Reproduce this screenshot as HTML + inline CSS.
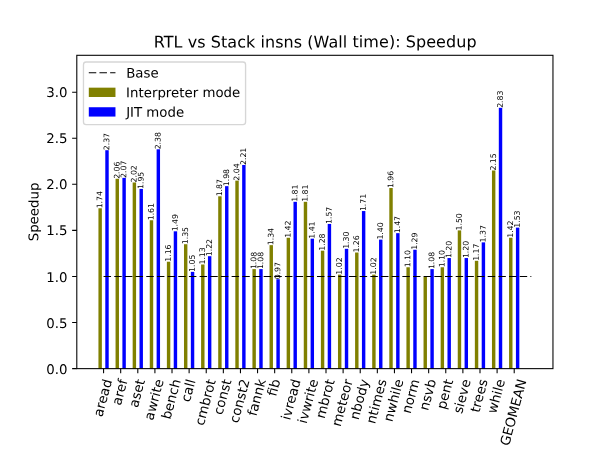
<!DOCTYPE html>
<html lang="en"><head><meta charset="utf-8"><title>RTL vs Stack insns (Wall time): Speedup</title>
<style>
html,body{margin:0;padding:0;background:#fff;}
body{width:613px;height:460px;overflow:hidden;}
svg{display:block;}
text{font-family:"DejaVu Sans","Liberation Sans",sans-serif;fill:#000;text-rendering:geometricPrecision}
.b1{fill:#808000}.b2{fill:#0000ff}
.ax{stroke:#000;stroke-width:1.07;fill:none;stroke-linecap:square}
.tk{stroke:#000;stroke-width:1.07;fill:none}
.lab{font-size:7.72px}
.t10{font-size:13.33px}.t12{font-size:16px;letter-spacing:0.06px}
</style></head><body>
<svg width="613" height="460" viewBox="0 0 613 460">
<rect width="613" height="460" fill="#fff"/>
<g class="b1">
<rect x="98.44" y="208.28" width="3.42" height="160.36"/>
<rect x="115.55" y="178.79" width="3.42" height="189.85"/>
<rect x="132.66" y="182.48" width="3.42" height="186.16"/>
<rect x="149.77" y="220.26" width="3.42" height="148.38"/>
<rect x="166.88" y="261.73" width="3.42" height="106.91"/>
<rect x="183.99" y="244.22" width="3.42" height="124.42"/>
<rect x="201.1" y="264.5" width="3.42" height="104.14"/>
<rect x="218.21" y="196.3" width="3.42" height="172.34"/>
<rect x="235.32" y="180.63" width="3.42" height="188.01"/>
<rect x="252.43" y="269.11" width="3.42" height="99.53"/>
<rect x="269.54" y="245.15" width="3.42" height="123.49"/>
<rect x="286.65" y="237.77" width="3.42" height="130.87"/>
<rect x="303.76" y="201.83" width="3.42" height="166.81"/>
<rect x="320.87" y="250.68" width="3.42" height="117.96"/>
<rect x="337.98" y="274.64" width="3.42" height="94"/>
<rect x="355.09" y="252.52" width="3.42" height="116.12"/>
<rect x="372.2" y="274.64" width="3.42" height="94"/>
<rect x="389.31" y="188.01" width="3.42" height="180.63"/>
<rect x="406.42" y="267.26" width="3.42" height="101.38"/>
<rect x="423.53" y="276.48" width="3.42" height="92.16"/>
<rect x="440.64" y="267.26" width="3.42" height="101.38"/>
<rect x="457.75" y="230.4" width="3.42" height="138.24"/>
<rect x="474.85" y="260.81" width="3.42" height="107.83"/>
<rect x="491.96" y="170.5" width="3.42" height="198.14"/>
<rect x="509.07" y="237.77" width="3.42" height="130.87"/>
</g>
<g class="b2">
<rect x="105.29" y="150.22" width="3.42" height="218.42"/>
<rect x="122.4" y="177.87" width="3.42" height="190.77"/>
<rect x="139.51" y="188.93" width="3.42" height="179.71"/>
<rect x="156.62" y="149.3" width="3.42" height="219.34"/>
<rect x="173.73" y="231.32" width="3.42" height="137.32"/>
<rect x="190.84" y="271.87" width="3.42" height="96.77"/>
<rect x="207.95" y="256.2" width="3.42" height="112.44"/>
<rect x="225.05" y="186.16" width="3.42" height="182.48"/>
<rect x="242.16" y="164.97" width="3.42" height="203.67"/>
<rect x="259.27" y="269.11" width="3.42" height="99.53"/>
<rect x="276.38" y="279.24" width="3.42" height="89.4"/>
<rect x="293.49" y="201.83" width="3.42" height="166.81"/>
<rect x="310.6" y="238.69" width="3.42" height="129.95"/>
<rect x="327.71" y="223.95" width="3.42" height="144.69"/>
<rect x="344.82" y="248.83" width="3.42" height="119.81"/>
<rect x="361.93" y="211.05" width="3.42" height="157.59"/>
<rect x="379.04" y="239.62" width="3.42" height="129.02"/>
<rect x="396.15" y="233.16" width="3.42" height="135.48"/>
<rect x="413.26" y="249.75" width="3.42" height="118.89"/>
<rect x="430.37" y="269.11" width="3.42" height="99.53"/>
<rect x="447.48" y="258.05" width="3.42" height="110.59"/>
<rect x="464.59" y="258.05" width="3.42" height="110.59"/>
<rect x="481.7" y="242.38" width="3.42" height="126.26"/>
<rect x="498.81" y="107.83" width="3.42" height="260.81"/>
<rect x="515.92" y="227.64" width="3.42" height="141"/>
</g>
<g class="tk">
<path d="M103.58 368.64v4.67M120.69 368.64v4.67M137.8 368.64v4.67M154.91 368.64v4.67M172.01 368.64v4.67M189.12 368.64v4.67M206.23 368.64v4.67M223.34 368.64v4.67M240.45 368.64v4.67M257.56 368.64v4.67M274.67 368.64v4.67M291.78 368.64v4.67M308.89 368.64v4.67M326 368.64v4.67M343.11 368.64v4.67M360.22 368.64v4.67M377.33 368.64v4.67M394.44 368.64v4.67M411.55 368.64v4.67M428.66 368.64v4.67M445.77 368.64v4.67M462.88 368.64v4.67M479.99 368.64v4.67M497.1 368.64v4.67M514.21 368.64v4.67M76.8 368.64h-4.67M76.8 322.56h-4.67M76.8 276.48h-4.67M76.8 230.4h-4.67M76.8 184.32h-4.67M76.8 138.24h-4.67M76.8 92.16h-4.67"/>
</g>
<path d="M103.58 276.48H531.32" stroke="#000" stroke-width="1.2" stroke-dasharray="7.47 3.2" fill="none"/>
<rect class="ax" x="76.8" y="55.3" width="476.16" height="313.34"/>
<g class="t10">
<text class="xt" x="102.19" y="417.49" transform="rotate(-75 102.19 417.49)">aread</text>
<text class="xt" x="120.84" y="405.95" transform="rotate(-75 120.84 405.95)">aref</text>
<text class="xt" x="137.66" y="408.17" transform="rotate(-75 137.66 408.17)">aset</text>
<text class="xt" x="153.06" y="420.87" transform="rotate(-75 153.06 420.87)">awrite</text>
<text class="xt" x="170.28" y="420.1" transform="rotate(-75 170.28 420.1)">bench</text>
<text class="xt" x="189.71" y="402.73" transform="rotate(-75 189.71 402.73)">call</text>
<text class="xt" x="203.66" y="426.33" transform="rotate(-75 203.66 426.33)">cmbrot</text>
<text class="xt" x="222.22" y="415.48" transform="rotate(-75 222.22 415.48)">const</text>
<text class="xt" x="238.24" y="423.67" transform="rotate(-75 238.24 423.67)">const2</text>
<text class="xt" x="256.27" y="416.8" transform="rotate(-75 256.27 416.8)">fannk</text>
<text class="xt" x="276.04" y="396.88" transform="rotate(-75 276.04 396.88)">fib</text>
<text class="xt" x="289.95" y="420.79" transform="rotate(-75 289.95 420.79)">ivread</text>
<text class="xt" x="306.61" y="424.17" transform="rotate(-75 306.61 424.17)">ivwrite</text>
<text class="xt" x="324.38" y="419.25" transform="rotate(-75 324.38 419.25)">mbrot</text>
<text class="xt" x="340.42" y="427.21" transform="rotate(-75 340.42 427.21)">meteor</text>
<text class="xt" x="358.41" y="420.61" transform="rotate(-75 358.41 420.61)">nbody</text>
<text class="xt" x="374.99" y="424.56" transform="rotate(-75 374.99 424.56)">ntimes</text>
<text class="xt" x="392.37" y="422.53" transform="rotate(-75 392.37 422.53)">nwhile</text>
<text class="xt" x="410.59" y="414.25" transform="rotate(-75 410.59 414.25)">norm</text>
<text class="xt" x="428.1" y="411.27" transform="rotate(-75 428.1 411.27)">nsvb</text>
<text class="xt" x="445.4" y="409.91" transform="rotate(-75 445.4 409.91)">pent</text>
<text class="xt" x="461.91" y="414.35" transform="rotate(-75 461.91 414.35)">sieve</text>
<text class="xt" x="479.17" y="413.21" transform="rotate(-75 479.17 413.21)">trees</text>
<text class="xt" x="496.13" y="414.37" transform="rotate(-75 496.13 414.37)">while</text>
<text class="xt" x="508.92" y="446.55" transform="rotate(-75 508.92 446.55)">GEOMEAN</text>
<text class="yt" x="67.47" y="373.71" text-anchor="end">0.0</text>
<text class="yt" x="67.47" y="327.63" text-anchor="end">0.5</text>
<text class="yt" x="67.47" y="281.55" text-anchor="end">1.0</text>
<text class="yt" x="67.47" y="235.47" text-anchor="end">1.5</text>
<text class="yt" x="67.47" y="189.39" text-anchor="end">2.0</text>
<text class="yt" x="67.47" y="143.31" text-anchor="end">2.5</text>
<text class="yt" x="67.47" y="97.23" text-anchor="end">3.0</text>
<text class="yl" x="38.41" y="211.97" text-anchor="middle" transform="rotate(-89.8 38.41 211.97)">Speedup</text>
</g>
<g class="lab">
<text class="l" x="102.28" y="208.28" transform="rotate(-89.5 102.28 208.28)">1.74</text>
<text class="l" x="119.39" y="178.79" transform="rotate(-89.5 119.39 178.79)">2.06</text>
<text class="l" x="136.5" y="182.48" transform="rotate(-89.5 136.5 182.48)">2.02</text>
<text class="l" x="153.61" y="220.26" transform="rotate(-89.5 153.61 220.26)">1.61</text>
<text class="l" x="170.72" y="261.73" transform="rotate(-89.5 170.72 261.73)">1.16</text>
<text class="l" x="187.83" y="244.22" transform="rotate(-89.5 187.83 244.22)">1.35</text>
<text class="l" x="204.94" y="264.5" transform="rotate(-89.5 204.94 264.5)">1.13</text>
<text class="l" x="222.05" y="196.3" transform="rotate(-89.5 222.05 196.3)">1.87</text>
<text class="l" x="239.16" y="180.63" transform="rotate(-89.5 239.16 180.63)">2.04</text>
<text class="l" x="256.27" y="269.11" transform="rotate(-89.5 256.27 269.11)">1.08</text>
<text class="l" x="273.38" y="245.15" transform="rotate(-89.5 273.38 245.15)">1.34</text>
<text class="l" x="290.49" y="237.77" transform="rotate(-89.5 290.49 237.77)">1.42</text>
<text class="l" x="307.6" y="201.83" transform="rotate(-89.5 307.6 201.83)">1.81</text>
<text class="l" x="324.71" y="250.68" transform="rotate(-89.5 324.71 250.68)">1.28</text>
<text class="l" x="341.82" y="274.64" transform="rotate(-89.5 341.82 274.64)">1.02</text>
<text class="l" x="358.93" y="252.52" transform="rotate(-89.5 358.93 252.52)">1.26</text>
<text class="l" x="376.04" y="274.64" transform="rotate(-89.5 376.04 274.64)">1.02</text>
<text class="l" x="393.15" y="188.01" transform="rotate(-89.5 393.15 188.01)">1.96</text>
<text class="l" x="410.26" y="267.26" transform="rotate(-89.5 410.26 267.26)">1.10</text>
<text class="l" x="444.48" y="267.26" transform="rotate(-89.5 444.48 267.26)">1.10</text>
<text class="l" x="461.59" y="230.4" transform="rotate(-89.5 461.59 230.4)">1.50</text>
<text class="l" x="478.7" y="260.81" transform="rotate(-89.5 478.7 260.81)">1.17</text>
<text class="l" x="495.81" y="170.5" transform="rotate(-89.5 495.81 170.5)">2.15</text>
<text class="l" x="512.92" y="237.77" transform="rotate(-89.5 512.92 237.77)">1.42</text>
<text class="l" x="109.13" y="150.22" transform="rotate(-89.5 109.13 150.22)">2.37</text>
<text class="l" x="126.24" y="177.87" transform="rotate(-89.5 126.24 177.87)">2.07</text>
<text class="l" x="143.35" y="188.93" transform="rotate(-89.5 143.35 188.93)">1.95</text>
<text class="l" x="160.46" y="149.3" transform="rotate(-89.5 160.46 149.3)">2.38</text>
<text class="l" x="177.57" y="231.32" transform="rotate(-89.5 177.57 231.32)">1.49</text>
<text class="l" x="194.68" y="271.87" transform="rotate(-89.5 194.68 271.87)">1.05</text>
<text class="l" x="211.79" y="256.2" transform="rotate(-89.5 211.79 256.2)">1.22</text>
<text class="l" x="228.9" y="186.16" transform="rotate(-89.5 228.9 186.16)">1.98</text>
<text class="l" x="246.01" y="164.97" transform="rotate(-89.5 246.01 164.97)">2.21</text>
<text class="l" x="263.12" y="269.11" transform="rotate(-89.5 263.12 269.11)">1.08</text>
<text class="l" x="280.22" y="279.24" transform="rotate(-89.5 280.22 279.24)">0.97</text>
<text class="l" x="297.33" y="201.83" transform="rotate(-89.5 297.33 201.83)">1.81</text>
<text class="l" x="314.44" y="238.69" transform="rotate(-89.5 314.44 238.69)">1.41</text>
<text class="l" x="331.55" y="223.95" transform="rotate(-89.5 331.55 223.95)">1.57</text>
<text class="l" x="348.66" y="248.83" transform="rotate(-89.5 348.66 248.83)">1.30</text>
<text class="l" x="365.77" y="211.05" transform="rotate(-89.5 365.77 211.05)">1.71</text>
<text class="l" x="382.88" y="239.62" transform="rotate(-89.5 382.88 239.62)">1.40</text>
<text class="l" x="399.99" y="233.16" transform="rotate(-89.5 399.99 233.16)">1.47</text>
<text class="l" x="417.1" y="249.75" transform="rotate(-89.5 417.1 249.75)">1.29</text>
<text class="l" x="434.21" y="269.11" transform="rotate(-89.5 434.21 269.11)">1.08</text>
<text class="l" x="451.32" y="258.05" transform="rotate(-89.5 451.32 258.05)">1.20</text>
<text class="l" x="468.43" y="258.05" transform="rotate(-89.5 468.43 258.05)">1.20</text>
<text class="l" x="485.54" y="242.38" transform="rotate(-89.5 485.54 242.38)">1.37</text>
<text class="l" x="502.65" y="107.83" transform="rotate(-89.5 502.65 107.83)">2.83</text>
<text class="l" x="519.76" y="227.64" transform="rotate(-89.5 519.76 227.64)">1.53</text>
</g>
<text class="t12" x="315.18" y="47.4" text-anchor="middle" transform="rotate(-0.03 315.18 47.4)">RTL vs Stack insns (Wall time): Speedup</text>
<rect x="83.47" y="61.96" width="162.11" height="62.71" rx="2.67" fill="#fff" fill-opacity="0.8" stroke="#ccc" stroke-opacity="0.8" stroke-width="1.33"/>
<path d="M88.8 72.76H115.47" stroke="#000" stroke-width="1.2" stroke-dasharray="7.47 3.2" fill="none"/>
<rect x="88.8" y="87.66" width="26.67" height="9.33" fill="#808000"/>
<rect x="88.8" y="107.24" width="26.67" height="9.33" fill="#0000ff"/>
<g class="t10">
<text class="lg" x="126.13" y="77.63" transform="rotate(-0.05 126.13 77.63)">Base</text>
<text class="lg" x="126.13" y="97.2" transform="rotate(-0.05 126.13 97.2)">Interpreter mode</text>
<text class="lg" x="126.13" y="116.77" transform="rotate(-0.05 126.13 116.77)">JIT mode</text>
</g>
</svg>
</body></html>
